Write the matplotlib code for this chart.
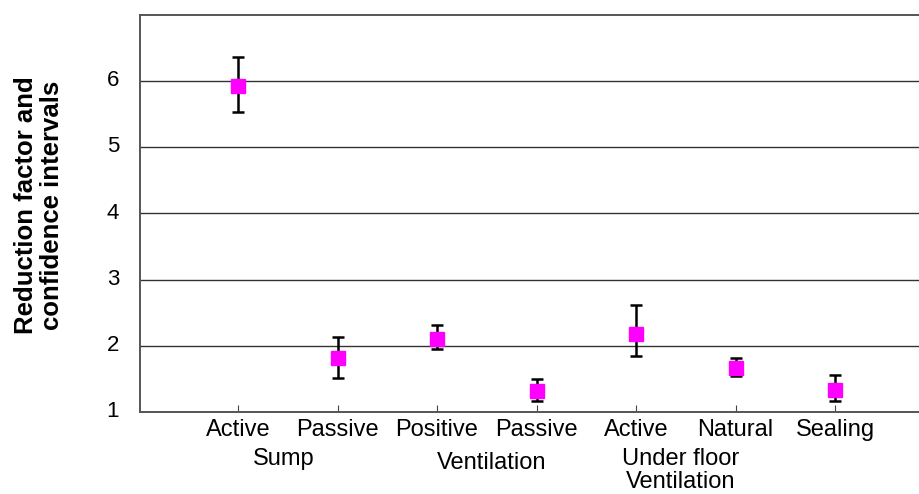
import matplotlib
matplotlib.use("Agg")
import matplotlib.pyplot as plt
import matplotlib.transforms as mtransforms
import numpy as np

plt.rcParams['font.family'] = ['Liberation Sans', 'DejaVu Sans']

categories = ["Active", "Passive", "Positive", "Passive", "Active", "Natural", "Sealing"]
groups = ["Sump", "Ventilation", "Under floor\nVentilation"]
group_members = [(0, 1), (2, 3), (4, 5)]
group_dx = [-0.04, 0.05, -0.05]
group_dy = [0.0, -0.012, 0.0]
values = [5.92, 1.81, 2.11, 1.32, 2.18, 1.66, 1.34]
upper = [6.36, 2.14, 2.32, 1.50, 2.61, 1.81, 1.56]
lower = [5.53, 1.52, 1.95, 1.17, 1.85, 1.54, 1.16]
yticks = [1, 2, 3, 4, 5, 6]

fig = plt.figure(figsize=(9.19, 4.94), dpi=100)
ax = fig.add_axes([140/919, 82/494, 1 - 140/919 + 0.02, (412-15)/494])

x = np.arange(len(categories))
yerr = [np.array(values) - np.array(lower), np.array(upper) - np.array(values)]
ax.errorbar(x, values, yerr=yerr, fmt='s', color='#FF00FF', markersize=10,
            ecolor='black', elinewidth=1.8, capsize=4, capthick=1.8, zorder=3)

ax.set_ylim(1, 7)
ax.set_xlim(-0.985, (919 + 0.02*919 - 238) / 99.5)
ax.set_yticks(yticks)
ax.set_yticklabels([str(t) for t in yticks], fontsize=16)
ax.tick_params(axis='y', length=0, pad=15)
ax.yaxis.grid(True, color='#333333', linewidth=1.0)
ax.set_axisbelow(True)

ax.set_xticks(x)
ax.set_xticklabels(categories, fontsize=17)
ax.tick_params(axis='x', direction='in', length=5, color='#444444', pad=5)

for s in ['left', 'bottom', 'top']:
    ax.spines[s].set_color('#555555')
    ax.spines[s].set_linewidth(1.4)
ax.spines['right'].set_visible(False)

trans = ax.get_xaxis_transform()
for g, (a, b), dx, dy in zip(groups, group_members, group_dx, group_dy):
    ax.text((a + b) / 2 + dx, -0.09 + dy, g, transform=trans, ha='center', va='top',
            fontsize=17, linespacing=1.05)

fig.text(39/919, 1 - 205/494, "Reduction factor and\nconfidence intervals",
         rotation=90, ha='center', va='center', fontsize=18.5, fontweight='bold',
         linespacing=1.12)

offset = mtransforms.ScaledTranslation(0, 3/100, fig.dpi_scale_trans)
for lbl in ax.get_yticklabels():
    lbl.set_transform(lbl.get_transform() + offset)

fig.savefig("out.png", dpi=100)
